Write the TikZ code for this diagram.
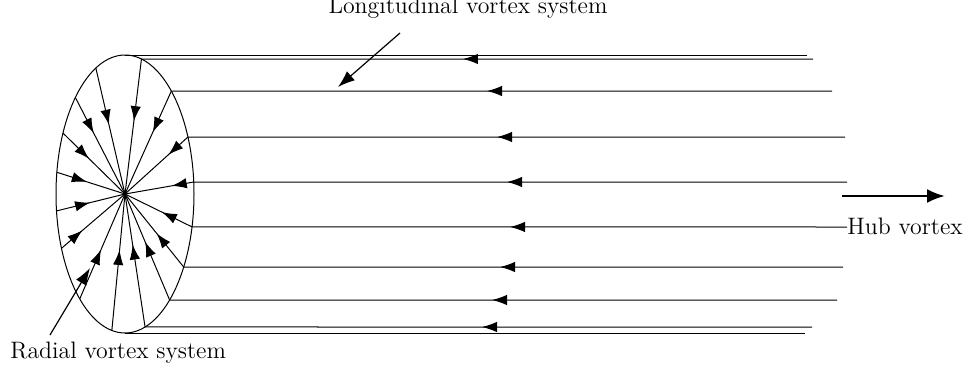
\documentclass[tikz,border=0pt]{standalone}
\usetikzlibrary{arrows.meta,decorations.markings,calc}
\begin{document}
\begin{tikzpicture}[x=0.5pt,y=-0.5pt,
  thinline/.style={line width=0.5pt},
  midarrow/.style={thinline,postaction={decorate,decoration={markings,
      mark=at position #1 with {\arrow{Latex[length=7.5pt,width=5.2pt]}}}}},
  leader/.style={line width=0.6pt,-{Latex[length=8.5pt,width=6pt]}},
  hub/.style={line width=1.25pt,-{Latex[length=9pt,width=7pt]}},
  lbl/.style={inner sep=0pt,font=\fontsize{11.9}{14}\selectfont}]
\useasboundingbox (0,0) rectangle (970,370);

% cross-section of the wake tube
\coordinate (c) at (125,194);
\draw[thinline] (c) ellipse [x radius=69, y radius=139];
\coordinate (top) at (125,55);
\coordinate (bot) at (125,333);

% radial vortex lines on the disc (angle / arrow position)
\foreach \t/\p [count=\i] in {115/0.45,76.2/0.46,47.8/0.40,24.2/0.31,4.95/0.32,
    -13.7/0.45,-31.7/0.46,-49.7/0.55,-73.1/0.62,-101/0.59,-131/0.47,
    -157/0.33,-173/0.49,171/0.44,154/0.42,136/0.37}{
  \coordinate (s\i) at ({125+69*cos(\t)},{194-139*sin(\t)});
  \draw[midarrow=\p] (s\i) -- (c);
}

% trailing (longitudinal) vortex lines: spoke index / angle / y / right end / arrow tip
\foreach \i/\t/\y/\xe/\xa in {2/76.2/59/813/463,3/47.8/91/832/487,4/24.2/137/845/497,
    5/4.95/182/847/507,6/-13.7/227/847/510,7/-31.7/267/843/500,
    8/-49.7/300/837/492,9/-73.1/327/812/482}{
  \coordinate (e\i) at (\xe,\y);
  \pgfmathsetmacro\fr{(\xe-\xa)/(\xe-125-69*cos(\t))}
  \draw[midarrow=\fr] (e\i) -- (s\i);
}
\coordinate (etop) at (807,55);
\coordinate (ebot) at (805,333);
\draw[thinline] (top) -- (etop);
\draw[thinline] (bot) -- (ebot);

% hub vortex
\coordinate (h1) at (842,196);
\coordinate (h2) at (945,196);
\draw[hub] (h1) -- (h2);
\node[lbl,anchor=base west] (hubl) at (847,234) {Hub vortex};

% labels with leaders
\node[lbl,anchor=base] (lon) at (468,13) {Longitudinal vortex system};
\coordinate (lt) at (400,33);
\coordinate (lh) at (338,87);
\draw[leader] (lt) -- (lh);

\node[lbl,anchor=base west] (rad) at (10,358) {Radial vortex system};
\coordinate (rt) at (50,335);
\coordinate (rh) at (90,268);
\draw[leader] (rt) -- (rh);
\end{tikzpicture}
\end{document}
